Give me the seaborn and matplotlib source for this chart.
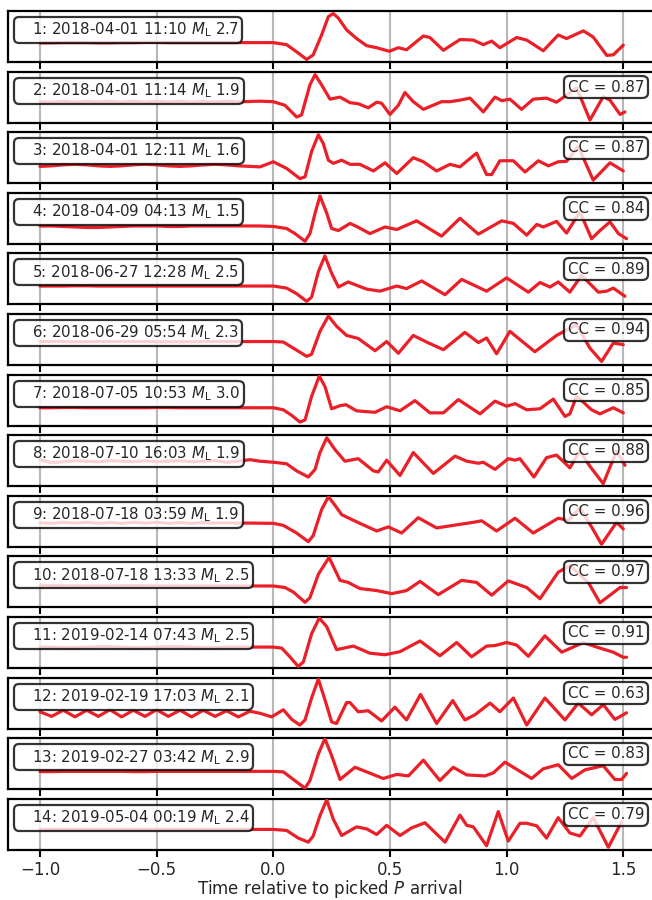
import numpy as np
import pandas as pd
import matplotlib
matplotlib.use("Agg")
import matplotlib.pyplot as plt
import seaborn as sns
from matplotlib.lines import Line2D

# ---------------- data ----------------
labels = [
    r"1: 2018-04-01 11:10 $M_{\mathrm{L}}$ 2.7",
    r"2: 2018-04-01 11:14 $M_{\mathrm{L}}$ 1.9",
    r"3: 2018-04-01 12:11 $M_{\mathrm{L}}$ 1.6",
    r"4: 2018-04-09 04:13 $M_{\mathrm{L}}$ 1.5",
    r"5: 2018-06-27 12:28 $M_{\mathrm{L}}$ 2.5",
    r"6: 2018-06-29 05:54 $M_{\mathrm{L}}$ 2.3",
    r"7: 2018-07-05 10:53 $M_{\mathrm{L}}$ 3.0",
    r"8: 2018-07-10 16:03 $M_{\mathrm{L}}$ 1.9",
    r"9: 2018-07-18 03:59 $M_{\mathrm{L}}$ 1.9",
    r"10: 2018-07-18 13:33 $M_{\mathrm{L}}$ 2.5",
    r"11: 2019-02-14 07:43 $M_{\mathrm{L}}$ 2.5",
    r"12: 2019-02-19 17:03 $M_{\mathrm{L}}$ 2.1",
    r"13: 2019-02-27 03:42 $M_{\mathrm{L}}$ 2.9",
    r"14: 2019-05-04 00:19 $M_{\mathrm{L}}$ 2.4",
]
cc_values = [None, 0.87, 0.87, 0.84, 0.89, 0.94, 0.85, 0.88, 0.96, 0.97, 0.91, 0.63, 0.83, 0.79]
xticks = [-1.0, -0.5, 0.0, 0.5, 1.0, 1.5]
xlabel = r"Time relative to picked $P$ arrival"

# pre-event sample times (s)
pre_t = [-1.0, -0.95, -0.9, -0.85, -0.8, -0.75, -0.7, -0.65, -0.6, -0.55,
         -0.5, -0.45, -0.4, -0.35, -0.3, -0.25, -0.2, -0.15, -0.1]

# pre-event amplitudes (normalised, % of panel height)
pre_v = [
    [37.5, 37.5, 38, 38, 38, 37.5, 37.5, 38, 38, 38.5, 38.5, 38, 38, 38, 38, 38, 38, 38, 38],
    [41, 40, 42, 40, 42, 40.5, 42, 40, 42, 40, 42, 40.5, 42, 40, 41.5, 40.5, 42, 40.5, 41.5],
    [33, 34, 36, 37, 36, 34, 33, 34, 36, 37, 36, 34, 33, 34, 36, 37, 36, 34, 33],
    [35, 35, 34, 33, 32, 32, 33, 34, 35, 35, 35, 34, 34, 35, 35, 35, 35, 35, 35],
    [36, 36, 36, 36.5, 36.5, 36, 36, 36, 36, 36, 36, 36, 36, 36, 36, 36, 36, 36, 36],
    [46, 46, 46, 45.5, 45.5, 46, 46, 46, 46, 46, 45.5, 45.5, 45.5, 45.5, 46, 46, 46, 46, 46],
    [35, 35, 35.5, 35.5, 35, 35, 35, 35, 35, 35, 35.5, 35.5, 35, 35, 35, 35, 35, 35, 35],
    [52, 46, 48, 50, 49, 48, 50, 49, 48, 50, 48, 49, 50, 48, 49, 50, 47, 49, 52],
    [47, 46, 48, 46.5, 48, 46, 47.5, 46, 48, 46.5, 48, 46, 47.5, 46, 47.5, 46.5, 47, 46.5, 46.5],
    [42.5, 42.5, 42.5, 42, 42, 42, 42, 42.5, 42.5, 42.5, 42, 42, 42, 42, 42, 42, 42, 42, 42],
    [41, 41, 40, 40, 41, 42, 42, 41, 40, 40, 41, 42, 42, 41, 40, 40, 41, 41.5, 41],
    [33, 24, 36, 23, 36, 24, 37, 23, 36, 24, 37, 24, 36, 23, 36, 24, 35, 23, 34],
    [34.5, 34.5, 35, 35, 35, 35, 35, 35, 34.5, 34.5, 35, 35, 35, 35, 35, 35, 35, 35, 35],
    [40, 40, 40, 40, 40, 40, 40, 40, 40, 40, 40, 40, 40, 40, 40, 40, 40, 40, 40],
]

# signal part: times (s) and amplitudes
sig_t = [
    [0, 0.057, 0.1, 0.143, 0.171, 0.207, 0.236, 0.257, 0.279, 0.314, 0.357, 0.4, 0.443, 0.497, 0.536, 0.571, 0.643, 0.671, 0.729, 0.8, 0.857, 0.9, 0.936, 0.971, 1.043, 1.086, 1.157, 1.221, 1.257, 1.329, 1.371, 1.429, 1.457, 1.5],
    [-0.057, 0, 0.05, 0.1, 0.121, 0.157, 0.179, 0.207, 0.243, 0.286, 0.329, 0.364, 0.407, 0.443, 0.464, 0.5, 0.536, 0.564, 0.6, 0.643, 0.721, 0.757, 0.8, 0.843, 0.9, 0.95, 0.979, 1.014, 1.064, 1.114, 1.171, 1.214, 1.3, 1.357, 1.414, 1.443, 1.486, 1.507],
    [-0.057, 0, 0.057, 0.114, 0.136, 0.164, 0.193, 0.214, 0.236, 0.257, 0.293, 0.329, 0.371, 0.429, 0.479, 0.529, 0.6, 0.643, 0.7, 0.757, 0.8, 0.871, 0.914, 0.936, 0.971, 1.029, 1.079, 1.136, 1.179, 1.221, 1.257, 1.307, 1.371, 1.443, 1.5],
    [-0.057, 0, 0.057, 0.093, 0.136, 0.157, 0.179, 0.2, 0.229, 0.25, 0.279, 0.329, 0.357, 0.414, 0.479, 0.529, 0.614, 0.721, 0.8, 0.879, 0.979, 1.029, 1.086, 1.129, 1.157, 1.214, 1.257, 1.314, 1.364, 1.4, 1.443, 1.479, 1.514],
    [0, 0.057, 0.1, 0.143, 0.164, 0.193, 0.221, 0.25, 0.279, 0.321, 0.357, 0.4, 0.457, 0.529, 0.571, 0.636, 0.736, 0.807, 0.914, 1.0, 1.093, 1.143, 1.186, 1.221, 1.271, 1.321, 1.393, 1.429, 1.457, 1.507],
    [-0.057, 0, 0.043, 0.086, 0.143, 0.164, 0.2, 0.236, 0.271, 0.314, 0.364, 0.436, 0.486, 0.536, 0.6, 0.657, 0.729, 0.821, 0.879, 0.914, 0.957, 1.014, 1.121, 1.214, 1.3, 1.357, 1.407, 1.457, 1.5],
    [0, 0.043, 0.079, 0.114, 0.136, 0.164, 0.197, 0.221, 0.25, 0.286, 0.311, 0.357, 0.436, 0.486, 0.543, 0.607, 0.671, 0.729, 0.793, 0.886, 0.95, 1.0, 1.036, 1.086, 1.143, 1.2, 1.25, 1.271, 1.3, 1.364, 1.4, 1.457, 1.5],
    [-0.057, 0, 0.057, 0.1, 0.15, 0.179, 0.2, 0.229, 0.264, 0.307, 0.364, 0.429, 0.45, 0.486, 0.543, 0.6, 0.686, 0.779, 0.829, 0.879, 0.9, 0.95, 1.007, 1.036, 1.057, 1.117, 1.171, 1.214, 1.271, 1.314, 1.357, 1.414, 1.471, 1.507],
    [0, 0.043, 0.1, 0.15, 0.171, 0.207, 0.236, 0.257, 0.293, 0.357, 0.443, 0.493, 0.55, 0.621, 0.7, 0.771, 0.857, 0.893, 0.957, 1.036, 1.114, 1.221, 1.264, 1.314, 1.364, 1.407, 1.471, 1.5],
    [0, 0.05, 0.086, 0.136, 0.157, 0.193, 0.239, 0.286, 0.321, 0.371, 0.443, 0.507, 0.571, 0.629, 0.707, 0.807, 0.871, 0.936, 1.007, 1.086, 1.143, 1.221, 1.271, 1.35, 1.4, 1.486, 1.514],
    [0, 0.036, 0.071, 0.107, 0.129, 0.164, 0.197, 0.229, 0.271, 0.343, 0.414, 0.479, 0.543, 0.629, 0.714, 0.786, 0.85, 0.914, 0.95, 1.0, 1.043, 1.093, 1.164, 1.236, 1.329, 1.386, 1.457, 1.5, 1.514],
    [-0.057, -0.007, 0.043, 0.079, 0.114, 0.136, 0.164, 0.193, 0.221, 0.25, 0.271, 0.314, 0.329, 0.364, 0.407, 0.464, 0.521, 0.571, 0.631, 0.7, 0.769, 0.821, 0.864, 0.929, 0.971, 1.029, 1.086, 1.164, 1.25, 1.307, 1.364, 1.414, 1.464, 1.514],
    [0, 0.043, 0.086, 0.136, 0.157, 0.193, 0.221, 0.25, 0.286, 0.35, 0.4, 0.471, 0.529, 0.579, 0.643, 0.714, 0.771, 0.829, 0.907, 0.943, 0.993, 1.043, 1.107, 1.157, 1.221, 1.279, 1.336, 1.414, 1.464, 1.493, 1.514],
    [0, 0.057, 0.107, 0.15, 0.171, 0.2, 0.229, 0.257, 0.293, 0.357, 0.4, 0.443, 0.486, 0.543, 0.593, 0.65, 0.736, 0.8, 0.829, 0.857, 0.914, 0.964, 1.007, 1.057, 1.086, 1.129, 1.171, 1.221, 1.271, 1.314, 1.371, 1.436, 1.493],
]
sig_v = [
    [38, 34, 20, 5, 14, 53, 89, 95, 86, 63, 46, 32, 28, 21, 28, 24, 51, 48, 23, 44, 43, 34, 41, 28, 48, 43, 22, 53, 46, 61, 49, 13, 14, 33],
    [42, 41, 34, 11, 15, 74, 94, 74, 46, 50, 39, 37, 29, 40, 38, 16, 34, 59, 41, 26, 41, 41, 44, 48, 21, 50, 43, 46, 26, 46, 48, 40, 68, 5, 51, 44, 16, 21],
    [32, 42, 29, 9, 12.5, 62, 95, 78, 45, 39, 45, 37, 37, 24, 40, 19, 50, 42, 24, 37, 32, 59, 17, 17, 44, 44, 22, 44, 34, 42, 43, 72, 6, 40, 24],
    [35, 34, 30, 20, 5, 20, 60, 94, 60, 30, 26, 40, 34, 20, 33, 28, 45, 15, 50, 19, 45, 40, 17, 38, 33, 44, 21, 63, 10, 26, 43, 20, 10],
    [36, 32, 21, 6, 14, 64, 95, 61, 34, 44, 37.5, 30, 26, 36, 31, 46, 19, 49, 26, 52, 24, 43, 34, 44, 24, 57, 24, 26, 32, 16],
    [46, 46, 45, 33, 17, 21, 66, 96, 76, 58, 52, 28, 46, 23, 58, 45, 30, 64, 44, 53, 22, 66, 26, 58, 79, 33, 7, 43, 40],
    [35, 31, 20, 7, 11, 57, 97, 77, 33, 39, 41, 29, 26, 37, 29, 49, 25, 25, 51, 23, 48, 38, 43, 31, 33, 52, 18, 23, 58, 31, 23, 35, 25],
    [49, 47, 44, 30, 18, 33, 66, 95, 72, 49, 54, 30, 28, 51, 21, 66, 25, 59, 49, 45, 47, 33, 54, 51, 54, 18, 56, 61, 36, 69, 39, 5, 69, 41],
    [46, 42, 27, 10, 22, 73, 98, 86, 63, 49, 31, 39, 27, 57, 37, 42, 48, 51, 31, 56, 27, 56, 52, 76, 39, 5, 48, 35],
    [42, 39, 30, 10, 19, 65, 98, 53, 49, 37, 33, 27, 33, 51, 25, 53, 49, 24, 52, 39, 17, 69, 82, 49, 9, 39, 39],
    [41, 39, 22, 3, 12, 67, 98, 81, 36, 43, 29, 26, 32, 53, 24, 50, 22, 43, 44, 50, 45, 23, 63, 31, 50, 41, 31, 21, 21],
    [30, 23, 37, 18, 7, 17, 60, 97, 57, 13, 10, 51, 51, 33, 35, 15, 42, 17, 67, 10, 55, 17, 27, 50, 33, 60, 7, 60, 17, 50, 27, 47, 18, 31],
    [35, 34, 19, 2, 17, 69, 99, 66, 19, 43, 34, 21, 29, 26, 57, 17, 43, 28, 26, 32, 53, 39, 21, 40, 48, 21, 38, 46, 19, 19, 31],
    [40, 38, 23, 15, 27, 67, 98, 60, 28, 45, 41, 30, 48, 28, 43, 53, 15, 68, 48, 45, 8, 75, 17, 52, 52, 47, 23, 63, 33, 27, 63, 5, 55],
]

# ---------------- style ----------------
sns.set_theme(style="ticks")
plt.rcParams["font.family"] = ["DejaVu Sans"]
plt.rcParams["mathtext.fontset"] = "dejavusans"

RED = "#ea1f28"
W, H = 652, 900
fig = plt.figure(figsize=(W / 100, H / 100), dpi=100)

n = len(labels)
for i in range(n):
    top = 11 + i * 60.6
    ax = fig.add_axes([8 / W, 1 - (top + 51) / H, (W - 8) / W, 51 / H])
    df = pd.DataFrame({"t": pre_t + sig_t[i], "v": pre_v[i] + sig_v[i]})
    sns.lineplot(data=df, x="t", y="v", ax=ax, color=RED, lw=2.3,
                 sort=False, estimator=None, zorder=3,
                 solid_joinstyle="round", solid_capstyle="round")
    ax.set_xlim(-1.137, 1.623)
    ax.set_ylim(0, 100)
    ax.set_xticks(xticks)
    ax.set_yticks([])
    ax.grid(axis="x", color="0.72", lw=1.5)
    ax.set_axisbelow(True)
    ax.set_xlabel("")
    ax.set_ylabel("")
    for s in ["top", "bottom", "left"]:
        ax.spines[s].set_linewidth(1.6)
        ax.spines[s].set_color("black")
    ax.spines["right"].set_visible(False)
    ax.tick_params(axis="x", direction="out", length=5, width=1.5,
                   color="black", labelsize=12, pad=3)
    if i < n - 1:
        ax.tick_params(labelbottom=False)

    h = Line2D([], [], lw=0)
    leg1 = ax.legend([h], [labels[i]], loc="upper left", handlelength=0,
                     handletextpad=0.95, borderpad=0.24, fontsize=10.8,
                     framealpha=0.8, edgecolor="black", fancybox=True,
                     borderaxespad=0.4)
    leg1.get_frame().set_linewidth(1.6)
    leg1.get_frame().set_boxstyle("round,pad=0,rounding_size=0.35")
    if cc_values[i] is not None:
        ax.add_artist(leg1)
        leg2 = ax.legend([h], [f"CC = {cc_values[i]:.2f}"], loc="upper right",
                         handlelength=0, handletextpad=0, borderpad=0.24,
                         fontsize=10.8, framealpha=0.8, edgecolor="black",
                         fancybox=True, borderaxespad=0.3)
        leg2.get_frame().set_linewidth(1.6)
        leg2.get_frame().set_boxstyle("round,pad=0,rounding_size=0.35")

    if i == n - 1:
        ax.set_xlabel(xlabel, fontsize=12, labelpad=-1)

fig.savefig("out.png", dpi=100)
